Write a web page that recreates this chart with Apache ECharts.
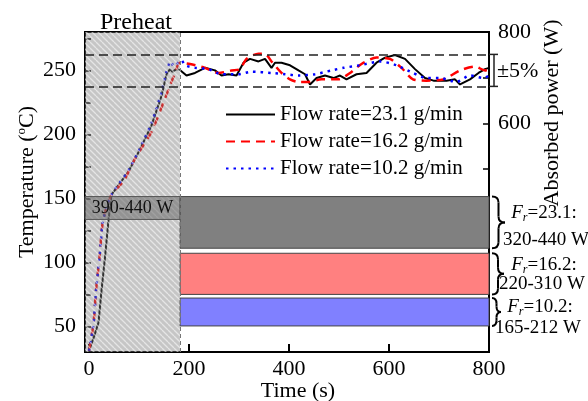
<!DOCTYPE html>
<html><head><meta charset="utf-8">
<script src="https://cdn.jsdelivr.net/npm/echarts@6/dist/echarts.min.js"></script>
<style>html,body{margin:0;padding:0;background:#fff}#c{width:588px;height:401px}</style>
</head><body><div id="c"></div>
<script>
const FONT = '"Liberation Serif", "Times New Roman", serif';

const seriesNames = ['Flow rate=23.1 g/min', 'Flow rate=16.2 g/min', 'Flow rate=10.2 g/min'];

const timeBlack = [0, 10, 19, 25, 32, 39, 45, 62, 79, 99, 125, 145, 155, 162, 167, 175, 183, 195, 212, 232, 252, 265, 279, 295, 309, 322, 339, 352, 365, 372, 385, 402, 419, 432, 442, 455, 472, 489, 502, 515, 535, 555, 575, 592, 612, 632, 652, 672, 689, 715, 732, 742, 762, 779, 792, 800];
const tempBlack = [31, 42, 53, 78, 104, 133, 153, 162, 171, 186, 207, 230, 247, 251, 249, 251, 250, 246, 248, 252, 250, 246, 247, 246, 256, 259, 257, 259, 252, 256, 256, 254, 250, 247, 239, 244, 246, 244, 246, 243, 247, 248, 256, 260, 262, 259, 251, 244, 242, 242, 243, 239, 243, 248, 251, 252];

const timeRed = [0, 9, 14, 21, 27, 35, 45, 70, 92, 125, 152, 169, 182, 202, 232, 259, 285, 302, 315, 339, 352, 365, 385, 402, 419, 439, 465, 499, 522, 545, 575, 602, 625, 648, 675, 709, 742, 772, 792, 800];
const tempRed = [31, 52, 78, 104, 130, 143, 153, 164, 181, 202, 228, 245, 256, 255, 252, 248, 250, 251, 259, 263, 263, 257, 248, 243, 241, 241, 243, 243, 248, 255, 260, 259, 252, 243, 242, 243, 250, 253, 250, 251];

const timeBlue = [0, 9, 14, 21, 27, 35, 45, 79, 99, 125, 145, 155, 163, 170, 178, 185, 192, 212, 239, 265, 299, 325, 365, 392, 419, 452, 485, 509, 542, 582, 615, 648, 675, 702, 735, 762, 789, 800];
const tempBlue = [31, 52, 78, 104, 130, 143, 153, 172, 187, 209, 233, 249, 257, 253, 256, 258, 254, 252, 251, 247, 247, 249, 248, 247, 246, 247, 250, 252, 254, 257, 254, 248, 244, 244, 241, 246, 244, 246];

const xTickValues = [0, 200, 400, 600, 800];
const tempLabelValues = [50, 100, 150, 200, 250];
const tempTickValues = [50, 75, 100, 125, 150, 175, 200, 225, 250, 275];
const powerLabelValues = [600, 800];

const preheatEnd = 182;
const tempCenter = 250;
const tolerance = 0.05;

const barLow = [327, 226, 157];
const barHigh = [440, 316, 218];
const flowRates = ['23.1', '16.2', '10.2'];
const barRangeLabels = ['320-440 W', '220-310 W', '165-212 W'];
const preheatPowerLow = 390;
const preheatPowerHigh = 440;
const preheatPowerLabel = '390-440 W';

const X_MIN = -8, X_MAX = 800, T_MIN = 30, T_MAX = 280, P_MIN = 100, P_MAX = 800;

// hatch pattern
const TILE = 6;
const pc = document.createElement('canvas');
pc.width = TILE; pc.height = TILE;
const g = pc.getContext('2d');
g.fillStyle = 'rgba(120,120,120,0.42)';
g.fillRect(0, 0, TILE, TILE);
g.strokeStyle = 'rgba(255,255,255,0.55)';
g.lineWidth = 1.3;
g.beginPath();
for (let k = -1; k <= 1; k++) { g.moveTo(0, TILE * k); g.lineTo(TILE, TILE + TILE * k); }
g.stroke();

const zip = (a, b) => a.map((t, i) => [t, b[i]]);
const barColors = ['#808080', '#ff8080', '#8080ff'];

const chart = echarts.init(document.getElementById('c'), null, {renderer: 'canvas'});
const axisLine = {show: true, onZero: false, lineStyle: {color: '#000', width: 2}};
const labelStyle = {fontFamily: FONT, fontSize: 22, color: '#000'};

const upper = tempCenter * (1 + tolerance), lower = tempCenter * (1 - tolerance);

chart.setOption({
  animation: false,
  backgroundColor: '#fff',
  grid: {left: 85, right: 99, top: 32, bottom: 49, show: true, borderColor: '#000', borderWidth: 2, backgroundColor: 'transparent'},
  legend: {
    data: seriesNames, orient: 'vertical', left: 220, top: 99,
    itemWidth: 49, itemHeight: 14, itemGap: 6, selectedMode: false,
    itemStyle: {opacity: 0},
    textStyle: {fontFamily: FONT, fontSize: 21, color: '#000', lineHeight: 21}
  },
  xAxis: [{
    type: 'value', min: X_MIN, max: X_MAX, axisLine,
    axisTick: {inside: true, length: 8, customValues: xTickValues, lineStyle: {color: '#000', width: 2}},
    axisLabel: Object.assign({customValues: xTickValues, margin: 6}, labelStyle),
    splitLine: {show: false}
  }],
  yAxis: [{
    type: 'value', min: T_MIN, max: T_MAX, position: 'left', axisLine,
    axisTick: {inside: true, length: 6, customValues: tempTickValues, lineStyle: {color: '#000', width: 1.5}},
    axisLabel: Object.assign({customValues: tempLabelValues, margin: 9}, labelStyle),
    splitLine: {show: false}
  }, {
    type: 'value', min: P_MIN, max: P_MAX, interval: 100, position: 'right', axisLine,
    axisTick: {inside: true, length: 6, lineStyle: {color: '#000', width: 1.5}},
    axisLabel: Object.assign({customValues: powerLabelValues, margin: 9}, labelStyle),
    splitLine: {show: false}
  }],
  series: [{
    name: seriesNames[0], type: 'line', data: zip(timeBlack, tempBlack), symbol: 'none', z: 2,
    lineStyle: {color: '#000', width: 2}, itemStyle: {color: '#000'},
    markLine: {
      symbol: 'none', silent: true, label: {show: false},
      lineStyle: {color: '#222', width: 1.5, type: [9, 5]},
      data: [
        [{coord: [X_MIN, upper]}, {coord: [X_MAX, upper]}],
        [{coord: [X_MIN, lower]}, {coord: [X_MAX, lower]}],
        [{coord: [preheatEnd, T_MIN], lineStyle: {color: '#777', width: 1, type: [4, 3]}}, {coord: [preheatEnd, T_MAX]}]
      ]
    }
  }, {
    name: seriesNames[1], type: 'line', data: zip(timeRed, tempRed), symbol: 'none', smooth: 0.25, z: 2,
    lineStyle: {color: '#ff0000', width: 2.5, type: [9, 6]}, itemStyle: {color: '#ff0000'}
  }, {
    name: seriesNames[2], type: 'line', data: zip(timeBlue, tempBlue), symbol: 'none', smooth: 0.25, z: 2,
    lineStyle: {color: '#0000ff', width: 2.5, type: [2.5, 5]}, itemStyle: {color: '#0000ff'}
  }, {
    name: 'hatch', type: 'line', data: [], z: 3,
    markArea: {
      z: 3, silent: true,
      itemStyle: {color: {image: pc, repeat: 'repeat'}},
      data: [[{coord: [X_MIN, T_MIN]}, {coord: [preheatEnd, T_MAX]}]]
    }
  }, {
    name: 'bars', type: 'line', yAxisIndex: 1, data: [], z: 1,
    markArea: {
      silent: true, label: {show: false},
      data: barLow.map((lo, i) => [
        {coord: [preheatEnd, lo], itemStyle: {color: barColors[i], borderColor: '#444', borderWidth: 1}},
        {coord: [X_MAX, barHigh[i]]}
      ])
    }
  }, {
    name: 'preheatBox', type: 'line', yAxisIndex: 1, data: [], z: 4,
    markArea: {
      z: 4, silent: true,
      data: [[
        {coord: [X_MIN, preheatPowerLow], name: preheatPowerLabel,
         itemStyle: {color: 'rgba(105,105,105,0.55)', borderColor: '#555', borderWidth: 1},
         label: {show: true, position: 'inside', fontFamily: FONT, fontSize: 18, color: '#111'}},
        {coord: [preheatEnd, preheatPowerHigh]}
      ]]
    }
  }]
});

function brace(x, y1, y2, w) {
  const xm = x + w * 0.5, xt = x + w, ym = (y1 + y2) / 2, r = Math.min(6, (y2 - y1) / 5);
  const st = {stroke: '#000', lineWidth: 2, fill: 'none'};
  return [
    {type: 'bezierCurve', shape: {x1: x, y1: y1, x2: xm, y2: y1 + r, cpx1: xm, cpy1: y1}, style: st},
    {type: 'line', shape: {x1: xm, y1: y1 + r, x2: xm, y2: ym - r}, style: st},
    {type: 'bezierCurve', shape: {x1: xm, y1: ym - r, x2: xt, y2: ym, cpx1: xm, cpy1: ym}, style: st},
    {type: 'bezierCurve', shape: {x1: xt, y1: ym, x2: xm, y2: ym + r, cpx1: xm, cpy1: ym}, style: st},
    {type: 'line', shape: {x1: xm, y1: ym + r, x2: xm, y2: y2 - r}, style: st},
    {type: 'bezierCurve', shape: {x1: xm, y1: y2 - r, x2: x, y2: y2, cpx1: xm, cpy1: y2}, style: st}
  ];
}

const px = (t, v, yi) => chart.convertToPixel({xAxisIndex: 0, yAxisIndex: yi}, [t, v]);
const graphics = [];
const xR = px(X_MAX, upper, 0)[0];
const yU = px(X_MAX, upper, 0)[1], yL = px(X_MAX, lower, 0)[1];
const bst = {stroke: '#222', lineWidth: 1.5};
graphics.push({type: 'line', shape: {x1: xR, y1: yU, x2: xR + 9, y2: yU}, style: bst, z: 10});
graphics.push({type: 'line', shape: {x1: xR, y1: yL, x2: xR + 9, y2: yL}, style: bst, z: 10});
graphics.push({type: 'line', shape: {x1: xR + 5, y1: yU, x2: xR + 5, y2: yL}, style: bst, z: 10});
graphics.push({type: 'text', x: xR + 8, y: (yU + yL) / 2 + 1, style: {text: '\u00b15%', font: `22px ${FONT}`, fill: '#000', align: 'left', verticalAlign: 'middle'}});

const braceW = [13, 12, 9];
const labelY = [[213, 240], [265, 284], [307, 328]];
const labelX = [[544, 546], [544, 542], [540, 538]];
barLow.forEach((lo, i) => {
  const yTop = px(X_MAX, barHigh[i], 1)[1], yBot = px(X_MAX, lo, 1)[1];
  brace(xR + 3, yTop, yBot, braceW[i]).forEach(el => graphics.push(el));
  graphics.push({type: 'text', x: labelX[i][0], y: labelY[i][0], style: {
    text: `{i|F}{s|r}{n|=${flowRates[i]}:}`, align: 'center', verticalAlign: 'middle', fill: '#000',
    rich: {
      i: {fontFamily: FONT, fontSize: 19, fontStyle: 'italic'},
      s: {fontFamily: FONT, fontSize: 12, fontStyle: 'italic', padding: [10, 0, 0, 0]},
      n: {fontFamily: FONT, fontSize: 19}
    }}});
  graphics.push({type: 'text', x: labelX[i][1], y: labelY[i][1], style: {
    text: barRangeLabels[i], font: `19px ${FONT}`, fill: '#000', align: 'center', verticalAlign: 'middle'}});
});

graphics.push({type: 'text', x: 136, y: 23, style: {text: 'Preheat', font: `24px ${FONT}`, fill: '#000', align: 'center', verticalAlign: 'middle'}});
graphics.push({type: 'text', x: 298, y: 391, style: {text: 'Time (s)', font: `22px ${FONT}`, fill: '#000', align: 'center', verticalAlign: 'middle'}});
graphics.push({type: 'text', x: 27, y: 182, rotation: Math.PI / 2, style: {
  text: 'Temperature ({sup|o}C)', fontFamily: FONT, fontSize: 22, fill: '#000', align: 'center', verticalAlign: 'middle',
  rich: {sup: {fontFamily: FONT, fontSize: 13, padding: [0, 0, 10, 0]}}}});
graphics.push({type: 'text', x: 552, y: 113, rotation: Math.PI / 2, style: {
  text: 'Absorbed power (W)', font: `22px ${FONT}`, fill: '#000', align: 'center', verticalAlign: 'middle'}});

chart.setOption({graphic: graphics});
</script></body></html>
